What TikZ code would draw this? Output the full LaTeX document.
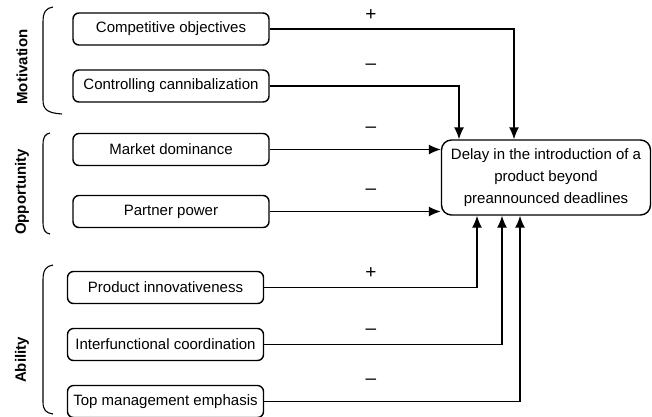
\documentclass[tikz,border=0pt]{standalone}
\usepackage{fontspec}
\setmainfont{Liberation Sans}
\usetikzlibrary{arrows.meta}
\tikzset{%
	>={Latex[width=10pt,length=12pt]},
	% Specifications for style of nodes:
	base/.style = {rectangle, rounded corners=6pt, draw=black, line width=1.4pt,
		minimum width=196pt, minimum height=32pt, inner sep=1pt,
		text centered, font=\fontsize{15}{22}\selectfont},
	factor/.style = {base},
	outcome/.style = {base, rounded corners=10pt, minimum width=209pt,
		minimum height=75pt, align=center},
	group/.style = {rotate=90, font=\fontsize{15}{18}\selectfont\bfseries},
	sign/.style = {font=\fontsize{19}{22}\selectfont},
	link/.style = {->, line width=1.4pt},
	brace/.style = {line width=1.1pt},
}

\begin{document}
\begin{tikzpicture}[node distance=57pt, x=1pt, y=-1pt]
		
		\useasboundingbox (0,0) rectangle (652,416);
		
		% Specification of nodes (position, etc.)
		\node (compet)     [factor] at (171,29)          {Competitive objectives};
		
		\node (cannib)     [factor, below of=compet]     {Controlling cannibalization};
		
		\node (market)     [factor, below of=cannib, yshift=-6.5pt]     {Market dominance};
		
		\node (partner)    [factor, below of=market, yshift=-5pt]     {Partner power};
		
		
		\node (innov)      [factor, below of=partner, xshift=-5.5pt, yshift=-19pt]     {Product innovativeness};
		
		\node (coord)      [factor, below of=innov]     {Interfunctional coordination};
		
		\node (topmgmt)    [factor, below of=coord]     {Top management emphasis};
		
		
		\node (delay)      [outcome] at (546,177.5)
		{Delay in the introduction of a\\ product beyond\\ preannounced deadlines};
		
		
		% groups on the left
		\node (motiv)      [group] at (22,67)      {Motivation};
		\node (oppor)      [group] at (22,192)     {Opportunity};
		\node (abil)       [group] at (22,360)     {Ability};
		
		\draw[brace] (53,7) .. controls (46,8) and (43,12) .. (43,22) -- (43,100) .. controls (43,110) and (48,113) .. (62,114);
		\draw[brace] (50,133) .. controls (45,134) and (43,137) .. (43,145) -- (43,222) .. controls (43,230) and (45,233) .. (50,234);
		\draw[brace] (53,265) .. controls (46,266) and (43,270) .. (43,280) -- (43,402) .. controls (43,410) and (46,413) .. (53,414);
		
		
		% signs
		\node (plus1)      [sign] at (371,15)      {+};
		\node (minus1)     [sign] at (371,67)      {\textendash};
		\node (minus2)     [sign] at (371,130)     {\textendash};
		\node (minus3)     [sign] at (371,192)     {\textendash};
		\node (plus2)      [sign] at (371,273)     {+};
		\node (minus4)     [sign] at (371,332)     {\textendash};
		\node (minus5)     [sign] at (371,382)     {\textendash};
		
		
		\draw[link]  (compet.east)  -| ([xshift=-32pt]delay.north);
		
		\draw[link]  (cannib.east)  -| ([xshift=-87pt]delay.north);
		
		\draw[link]  (market.east)  -- (market.east -| delay.west);
		
		\draw[link]  (partner.east)  -- (partner.east -| delay.west);
		
		\draw[link]  (innov.east)  -| ([xshift=-69pt]delay.south);
		
		\draw[link]  (coord.east)  -| ([xshift=-44pt]delay.south);
		
		\draw[link]  (topmgmt.east)  -| ([xshift=-26pt]delay.south);
		
		
	\end{tikzpicture}
\end{document}
